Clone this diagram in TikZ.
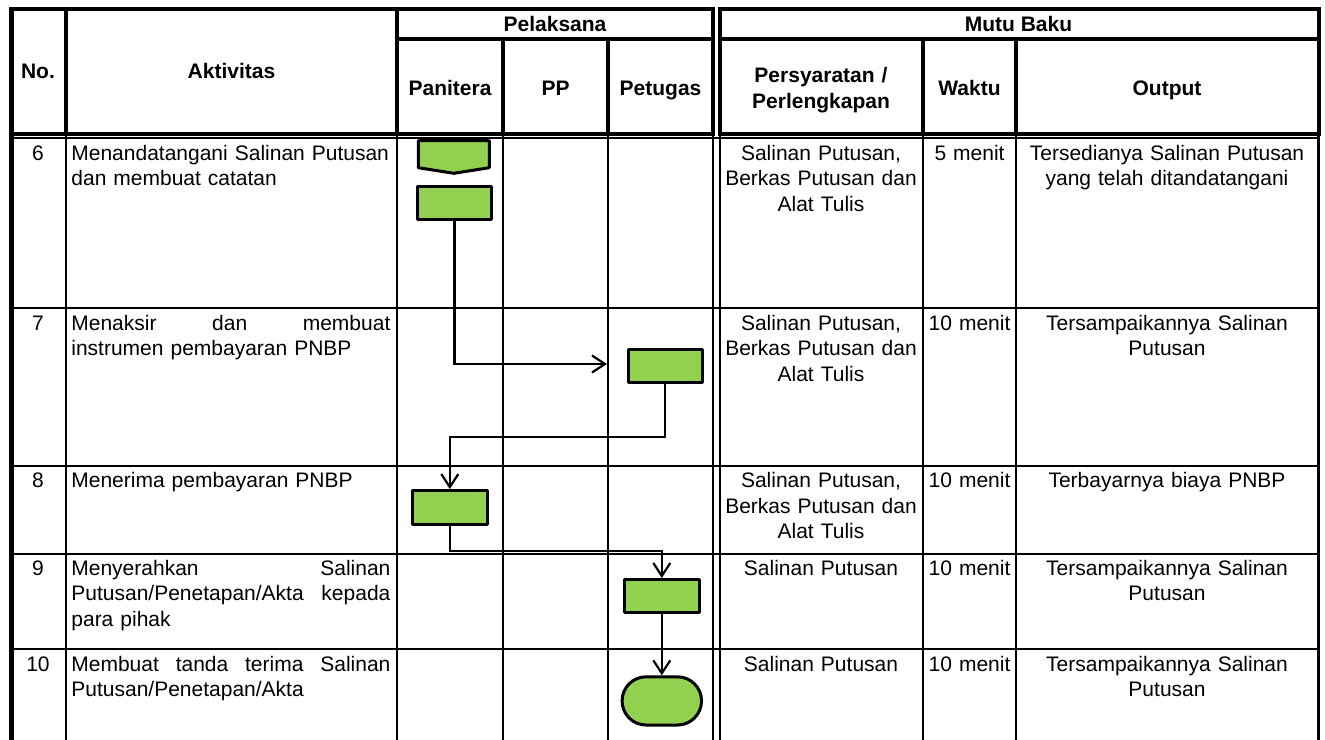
\documentclass[tikz,border=0pt]{standalone}
\usepackage{fontspec}
\setmainfont{Liberation Sans}
\usetikzlibrary{arrows.meta}
\definecolor{procgreen}{HTML}{92D050}
\begin{document}
\begin{tikzpicture}[x=0.5pt,y=-0.5pt,
  thk/.style={line width=2pt, line cap=rect},
  thn/.style={line width=1pt},
  brd/.style={line width=2.5pt},
  tx/.style={font=\fontsize{10.5pt}{12.75pt}\selectfont, inner sep=0pt},
  hd/.style={font=\fontsize{10.5pt}{12.75pt}\selectfont\bfseries, inner sep=0pt, anchor=base},
  cc/.style={tx, anchor=north, align=center, execute at begin node=\strut},
  act/.style={tx, anchor=north west, text width=164pt, align=left, execute at begin node=\strut},
  shapeln/.style={draw=black, line width=1.5pt, fill=procgreen, line join=round},
  proc/.style={shapeln, minimum width=37.25pt, minimum height=16.75pt, inner sep=0pt},
  termbox/.style={shapeln, rounded corners=12pt, minimum width=39.7pt, minimum height=24.1pt, inner sep=0pt},
  conn/.style={line width=1.1pt, -{Straight Barb[length=6.5pt,width=8.5pt]}}
]
\useasboundingbox (0,0) rectangle (1325,739);

% ---------- header (thick) ----------
\draw[thk] (11,9) -- (713.3,9);
\draw[thk] (719.7,9) -- (1318.5,9);
\draw[thk] (11,133.5) -- (713.3,133.5);
\draw[thk] (719.7,133.5) -- (1318.5,133.5);
\draw[thk] (397,39) -- (713.3,39);
\draw[thk] (719.7,39) -- (1318.5,39);
\foreach \x in {65.5,397,713.3,719.7,1318.5} \draw[thk] (\x,9) -- (\x,133.5);
\foreach \x in {503,608,923,1016} \draw[thk] (\x,39) -- (\x,133.5);
\draw[brd] (11,7.5) -- (11,745);

% ---------- body (thin) ----------
\foreach \y in {138.3,308.3,465.8,553.7,649.3} \draw[thn] (11,\y) -- (1318.5,\y);
\foreach \x in {65.5,397,503,608,713.3,719.7,923,1016} \draw[thn] (\x,133.5) -- (\x,745);
\draw[line width=1.5pt] (1318.5,133.5) -- (1318.5,745);

% ---------- header texts ----------
\node[hd] (hNo) at (38,78.5) {No.};
\node[hd] (hAkt) at (231.5,78.5) {Aktivitas};
\node[hd] (hPel) at (555,31.5) {Pelaksana};
\node[hd] (hPan) at (450,95.5) {Panitera};
\node[hd] (hPP) at (555.5,95.5) {PP};
\node[hd] (hPet) at (660.5,95.5) {Petugas};
\node[hd] (hMutu) at (1018.5,31.5) {Mutu Baku};
\node[hd, font=\fontsize{10.5pt}{13.3pt}\selectfont\bfseries, align=center, text width=100pt, anchor=north, execute at begin node=\strut] (hPers) at (821,63.1) {Persyaratan /\\Perlengkapan};
\node[hd] (hWak) at (969.5,95.5) {Waktu};
\node[hd] (hOut) at (1167,95.5) {Output};

% ---------- row 6 ----------
\node[cc, text width=25pt] (n6) at (38,141.8) {6};
\node[act] (a6) at (71,141.8) {Menandatangani Salinan Putusan\\dan membuat catatan};
\node[cc, text width=100pt] (p6) at (821,141.8) {Salinan Putusan,\\Berkas Putusan dan\\Alat Tulis};
\node[cc, text width=45pt] (w6) at (969.5,141.8) {5 menit};
\node[cc, text width=150pt] (o6) at (1167,141.8) {Tersedianya Salinan Putusan\\yang telah ditandatangani};

% ---------- row 7 ----------
\node[cc, text width=25pt] (n7) at (38,311.8) {7};
\node[act] (a7) at (71,311.8) {\makebox[159.5pt][l]{Menaksir\hfill dan\hfill membuat}\\instrumen pembayaran PNBP};
\node[cc, text width=100pt] (p7) at (821,311.8) {Salinan Putusan,\\Berkas Putusan dan\\Alat Tulis};
\node[cc, text width=45pt] (w7) at (969.5,311.8) {10 menit};
\node[cc, text width=150pt] (o7) at (1167,311.8) {Tersampaikannya Salinan\\Putusan};

% ---------- row 8 ----------
\node[cc, text width=25pt] (n8) at (38,469.3) {8};
\node[act] (a8) at (71,469.3) {Menerima pembayaran PNBP};
\node[cc, text width=100pt] (p8) at (821,469.3) {Salinan Putusan,\\Berkas Putusan dan\\Alat Tulis};
\node[cc, text width=45pt] (w8) at (969.5,469.3) {10 menit};
\node[cc, text width=150pt] (o8) at (1167,469.3) {Terbayarnya biaya PNBP};

% ---------- row 9 ----------
\node[cc, text width=25pt] (n9) at (38,557.2) {9};
\node[act] (a9) at (71,557.2) {\makebox[159.5pt][l]{Menyerahkan\hfill Salinan}\\\makebox[159.5pt][l]{Putusan/Penetapan/Akta\hfill kepada}\\para pihak};
\node[cc, text width=100pt] (p9) at (821,557.2) {Salinan Putusan};
\node[cc, text width=45pt] (w9) at (969.5,557.2) {10 menit};
\node[cc, text width=150pt] (o9) at (1167,557.2) {Tersampaikannya Salinan\\Putusan};

% ---------- row 10 ----------
\node[cc, text width=25pt] (n10) at (38,652.8) {10};
\node[act] (a10) at (71,652.8) {\makebox[159.5pt][l]{Membuat\hfill tanda\hfill terima\hfill Salinan}\\Putusan/Penetapan/Akta};
\node[cc, text width=100pt] (p10) at (821,652.8) {Salinan Putusan};
\node[cc, text width=45pt] (w10) at (969.5,652.8) {10 menit};
\node[cc, text width=150pt] (o10) at (1167,652.8) {Tersampaikannya Salinan\\Putusan};

% ---------- flow shapes ----------
\draw[shapeln] (418.3,140.7) -- (489.3,140.7) -- (489.3,167.7) -- (453.8,173.3) -- (418.3,167.7) -- cycle;
\node[proc] (r1) at (454.5,203) {};
\node[proc] (r2) at (665.3,366) {};
\node[proc] (r3) at (449.8,507.3) {};
\node[proc] (r4) at (661.8,596.2) {};
\node[termbox] (t1) at (661.8,700.9) {};

\coordinate (c1) at (607,364);
\coordinate (j2) at (449.8,436.7);
\coordinate (j3) at (661.8,550.7);

\draw[conn] (r1.south) |- (c1);
\draw[conn] (r2.south) |- (j2) -- (r3.north);
\draw[conn] (r3.south) |- (j3) -- (r4.north);
\draw[conn] (r4.south) -- (t1.north);
\end{tikzpicture}
\end{document}
